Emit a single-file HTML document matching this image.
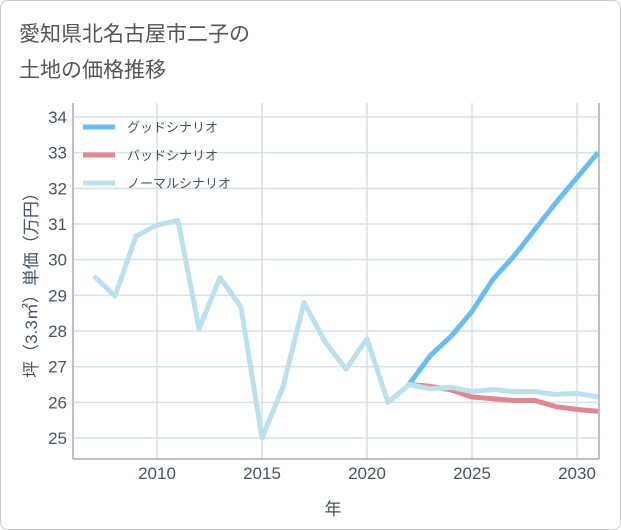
<!DOCTYPE html>
<html><head><meta charset="utf-8"><style>
body{margin:0;background:#fff;font-family:"Liberation Sans","Noto Sans CJK JP",sans-serif}
#wrap{position:relative;width:619px;height:528px;border:1px solid #ccc;border-radius:8px;overflow:hidden}
</style></head><body>
<div id="wrap">
<svg id="chart" width="621" height="530"></svg>
</div>
<script>
const years=[2007,2008,2009,2010,2011,2012,2013,2014,2015,2016,2017,2018,2019,2020,2021,2022,2023,2024,2025,2026,2027,2028,2029,2030,2031];
const normalVals=[29.54,28.98,30.66,30.97,31.1,28.06,29.5,28.67,25.0,26.43,28.8,27.7,26.93,27.78,26.0,26.5,26.38,26.42,26.3,26.36,26.3,26.3,26.22,26.25,26.15];
const goodYears=[2022,2023,2024,2025,2026,2027,2028,2029,2030,2031];
const goodVals=[26.5,27.3,27.85,28.55,29.45,30.1,30.85,31.6,32.3,33.0];
const badVals=[26.5,26.45,26.35,26.15,26.1,26.05,26.05,25.88,25.8,25.75];
const yTicks=[25,26,27,28,29,30,31,32,33,34];
const xTicks=[2010,2015,2020,2025,2030];
const NS='http://www.w3.org/2000/svg';
const svg=document.getElementById('chart');
const L=72,R=598,T=102,B=458;
const xs=y=>156+(y-2010)*21;
const ys=v=>437-(v-25)*35.667;
function mk(tag,attrs,parent){const e=document.createElementNS(NS,tag);for(const k in attrs)e.setAttribute(k,attrs[k]);(parent||svg).appendChild(e);return e;}
// title
let t=mk('text',{x:18,y:40,'font-size':21,fill:'#555'});t.textContent='愛知県北名古屋市二子の';


t=mk('text',{x:18,y:76,'font-size':21,fill:'#555'});t.textContent='土地の価格推移';


// grid
for(const v of yTicks){
 const l=mk('line',{x1:L,x2:R,y1:ys(v),y2:ys(v),stroke:'#d5e0ea','stroke-width':1.5});
 
 
 const tx=mk('text',{x:L-6,y:ys(v)+6,'font-size':17,fill:'#456','text-anchor':'end'});tx.textContent=v;
 
 
}
for(let y=2007;y<=2031;y++){
 if(xTicks.includes(y)) continue;
}
for(const v of xTicks){
 const l=mk('line',{x1:xs(v),x2:xs(v),y1:T,y2:B,stroke:'#d5e0ea','stroke-width':1.5});
 
 
 const tx=mk('text',{x:xs(v),y:B+20,'font-size':17,fill:'#456','text-anchor':'middle'});tx.textContent=v;
 
 
}
let ax=mk('line',{x1:L,x2:L,y1:T,y2:B,stroke:'#aab','stroke-width':1.5});


ax=mk('line',{x1:R,x2:R,y1:T,y2:B,stroke:'#aab','stroke-width':1.5});


ax=mk('line',{x1:L,x2:R,y1:B,y2:B,stroke:'#aab','stroke-width':1.5});


t=mk('text',{x:332,y:514,'font-size':17,fill:'#456','text-anchor':'middle'});t.textContent='年';


t=mk('text',{x:0,y:0,'font-size':17,fill:'#456','text-anchor':'middle',transform:'translate(36,280) rotate(-90)'});t.textContent='坪（3.3㎡）単価（万円）';


function line(xv,yv,color,name){
 const d=xv.map((x,i)=>(i?'L':'M')+xs(x)+','+ys(yv[i])).join(' ');
 const p=mk('path',{d:d,fill:'none',stroke:color,'stroke-width':5,'stroke-linejoin':'round'});
 
 
}
line(goodYears,badVals,'#e0888f','bad-scenario-line');
line(goodYears,goodVals,'#6bbdf0','good-scenario-line');
line(years,normalVals,'#bde0ed','normal-scenario-line');
// legend
const leg=[['グッドシナリオ','#6bbdf0'],['バッドシナリオ','#e0888f'],['ノーマルシナリオ','#bde0ed']];
leg.forEach((e,i)=>{
 const y=126+i*28;
 const l=mk('line',{x1:82,x2:114,y1:y,y2:y,stroke:e[1],'stroke-width':5});
 
 
 const tx=mk('text',{x:126,y:y+5,'font-size':13,fill:'#456'});tx.textContent=e[0];
 
 
});
</script>
</body></html>
